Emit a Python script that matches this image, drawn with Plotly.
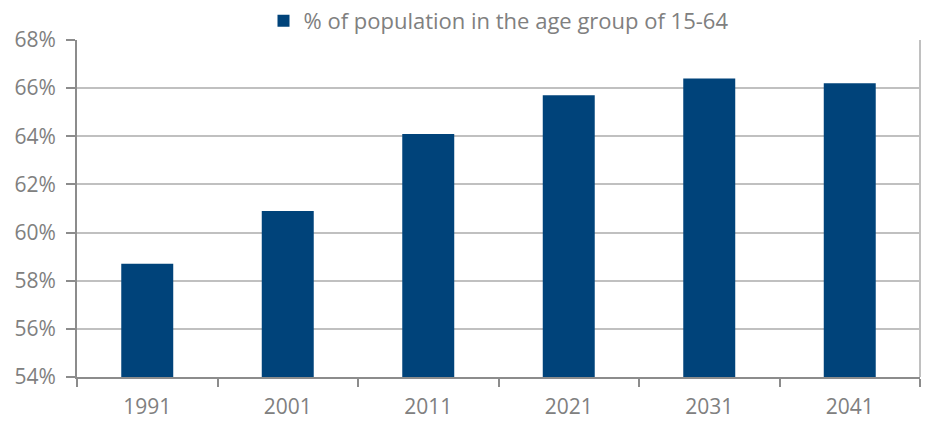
import plotly.graph_objects as go

years = ["1991", "2001", "2011", "2021", "2031", "2041"]
share_15_64 = [58.7, 60.9, 64.1, 65.7, 66.4, 66.2]
series_name = "% of population in the age group of 15-64"
y_ticks = [54, 56, 58, 60, 62, 64, 66, 68]
y_tick_labels = [f"{v}%" for v in y_ticks]

fig = go.Figure()
fig.add_trace(go.Bar(
    x=years, y=share_15_64, name=series_name,
    marker=dict(color="#00437a", line=dict(width=0)),
    width=0.37,
))

font_family = "Open Sans, DejaVu Sans, sans-serif"
fig.update_layout(
    width=928, height=421,
    margin=dict(l=77, r=8, t=40, b=44, autoexpand=False),
    paper_bgcolor="white", plot_bgcolor="white",
    showlegend=True,
    legend=dict(orientation="h", x=0.5, xanchor="center", y=1.0, yanchor="top",
                yref="container",
                font=dict(family=font_family, size=22, color="#808080"),
                itemwidth=30, bgcolor="rgba(0,0,0,0)"),
    font=dict(family=font_family, size=21, color="#808080"),
)
fig.update_xaxes(
    type="category", showline=True, linecolor="#8c8c8c", linewidth=2,
    ticks="outside", tickson="boundaries", ticklen=8, tickcolor="#8c8c8c", tickwidth=2,
    showgrid=False, tickfont=dict(size=21, color="#808080"), ticklabelstandoff=10,
)
fig.update_yaxes(
    range=[54, 68], tickvals=y_ticks, ticktext=y_tick_labels,
    showline=True, linecolor="#8c8c8c", linewidth=2,
    ticks="outside", ticklen=9, tickcolor="#8c8c8c", tickwidth=2,
    showgrid=True, gridcolor="#c0c0c0", gridwidth=2,
    tickfont=dict(size=21, color="#808080"), zeroline=False, ticklabelstandoff=6,
)
fig.add_shape(type="line", xref="paper", yref="paper", x0=1, x1=1, y0=0, y1=1,
              line=dict(color="#c0c0c0", width=2))
fig.write_html("out.html")
